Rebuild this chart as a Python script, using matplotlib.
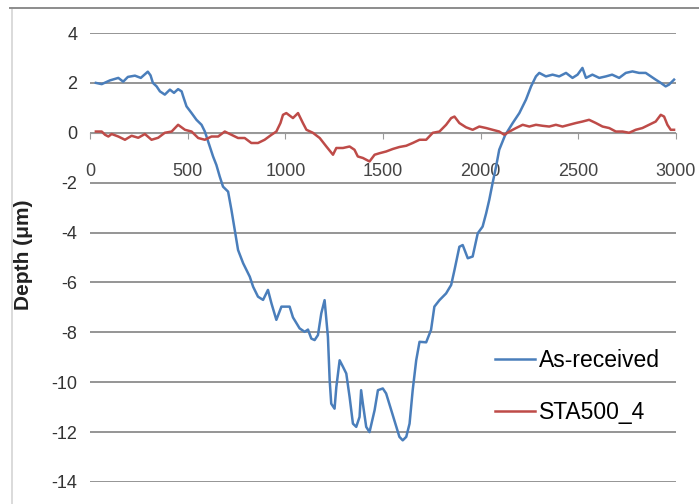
import matplotlib
matplotlib.use("Agg")
import matplotlib.pyplot as plt
from matplotlib.lines import Line2D

plt.rcParams["font.family"] = ["Liberation Sans", "DejaVu Sans"]
plt.rcParams["axes.unicode_minus"] = False

# Surface profiles: position (um) vs depth (um)
as_received_x = [30, 60, 102, 145, 170, 194, 230, 260, 296, 310, 322, 341, 358, 383,
                 409, 430, 451, 469, 477, 494, 520, 545, 571, 588, 605, 630, 647, 664,
                 681, 707, 724, 741, 758, 784, 818, 835, 860, 886, 911, 929, 954, 980,
                 1022, 1039, 1073, 1099, 1116, 1133, 1150, 1167, 1184, 1201, 1218, 1227,
                 1235, 1252, 1261, 1278, 1295, 1312, 1329, 1346, 1363, 1380, 1388, 1397,
                 1414, 1431, 1457, 1474, 1499, 1516, 1542, 1568, 1584, 1601, 1619, 1636,
                 1652, 1670, 1687, 1721, 1746, 1763, 1789, 1823, 1849, 1866, 1891, 1908,
                 1934, 1959, 1985, 2010, 2028, 2044, 2061, 2079, 2095, 2125, 2164, 2198,
                 2232, 2258, 2283, 2300, 2334, 2368, 2402, 2437, 2470, 2496, 2521, 2539,
                 2572, 2607, 2641, 2673, 2709, 2743, 2777, 2811, 2845, 2871, 2896, 2922,
                 2947, 2964, 2990]
as_received_y = [2.0, 1.95, 2.1, 2.2, 2.05, 2.24, 2.29, 2.2, 2.45, 2.3, 2.0, 1.86, 1.66, 1.53,
                 1.73, 1.6, 1.75, 1.66, 1.46, 1.06, 0.79, 0.52, 0.32, 0.05, -0.35, -0.95, -1.29, -1.75,
                 -2.16, -2.36, -3.09, -3.9, -4.7, -5.23, -5.77, -6.17, -6.57, -6.7, -6.3, -6.84, -7.5, -6.97,
                 -6.97, -7.4, -7.84, -7.98, -7.89, -8.25, -8.31, -8.11, -7.24, -6.71, -8.18, -9.92,
                 -10.86, -11.06, -10.2, -9.12, -9.38, -9.65, -10.59, -11.66, -11.79, -11.39, -10.32, -10.86,
                 -11.79, -12.0, -11.12, -10.32, -10.25, -10.45, -11.12, -11.79, -12.19, -12.33, -12.19, -11.66,
                 -10.32, -9.12, -8.38, -8.4, -7.9, -6.97, -6.71, -6.44, -6.1, -5.5, -4.57, -4.5,
                 -5.03, -4.96, -4.03, -3.76, -3.23, -2.69, -2.02, -1.35, -0.68, -0.1, 0.39, 0.79,
                 1.33, 1.86, 2.26, 2.4, 2.26, 2.33, 2.26, 2.4, 2.2, 2.33, 2.6, 2.2,
                 2.33, 2.2, 2.26, 2.33, 2.2, 2.4, 2.46, 2.4, 2.4, 2.26, 2.13, 2.0,
                 1.86, 1.93, 2.13]

sta500_x = [30, 60, 77, 94, 111, 145, 179, 213, 247, 281, 315, 349, 383, 418, 451, 486,
            520, 554, 588, 622, 656, 690, 724, 758, 792, 826, 860, 894, 929, 954, 975,
            988, 1005, 1039, 1065, 1090, 1108, 1141, 1176, 1210, 1244, 1261, 1295, 1329,
            1354, 1371, 1397, 1431, 1457, 1482, 1516, 1550, 1584, 1619, 1652, 1687, 1721,
            1755, 1789, 1823, 1849, 1866, 1891, 1925, 1959, 1993, 2028, 2061, 2095, 2121,
            2147, 2181, 2215, 2249, 2283, 2317, 2351, 2385, 2419, 2453, 2487, 2521, 2555,
            2590, 2624, 2658, 2692, 2726, 2760, 2794, 2828, 2862, 2896, 2922, 2939, 2956,
            2973, 2990]
sta500_y = [0.05, 0.05, -0.08, -0.15, -0.05, -0.15, -0.28, -0.12, -0.2, -0.05, -0.28, -0.2, 0.0, 0.05, 0.32, 0.12,
            0.05, -0.21, -0.28, -0.15, -0.15, 0.05, -0.08, -0.21, -0.21, -0.41, -0.41, -0.28, -0.08, 0.05, 0.39,
            0.72, 0.79, 0.59, 0.79, 0.39, 0.12, 0.0, -0.21, -0.55, -0.88, -0.61, -0.61, -0.55,
            -0.68, -0.95, -1.01, -1.15, -0.88, -0.82, -0.75, -0.65, -0.57, -0.52, -0.41, -0.28, -0.28,
            0.0, 0.05, 0.32, 0.59, 0.65, 0.39, 0.22, 0.12, 0.25, 0.19, 0.12, 0.05, -0.08,
            0.05, 0.19, 0.32, 0.25, 0.32, 0.28, 0.25, 0.32, 0.25, 0.32, 0.39, 0.45, 0.52,
            0.39, 0.25, 0.19, 0.05, 0.05, 0.0, 0.12, 0.19, 0.32, 0.45, 0.72, 0.65, 0.32,
            0.12, 0.12]

x_ticks = [0, 500, 1000, 1500, 2000, 2500, 3000]
y_ticks = [4, 2, 0, -2, -4, -6, -8, -10, -12, -14]

W, H = 699, 504
fig = plt.figure(figsize=(W / 100, H / 100), dpi=100)
ax = fig.add_axes([90 / W, 1 - 482 / H, 586 / W, 449 / H])

# chart-area frame
fig.add_artist(Line2D([12 / W, 12 / W], [0, 1 - 8 / H], color="#d4d4d4", lw=1.2))
fig.add_artist(Line2D([10 / W, 1], [1 - 8 / H, 1 - 8 / H], color="#8c8c8c", lw=1.4))

ax.plot(as_received_x, as_received_y, color="#4a7ebb", lw=1.8, label="As-received", zorder=3)
ax.plot(sta500_x, sta500_y, color="#be4b48", lw=1.8, label="STA500_4", zorder=4)

ax.set_xlim(0, 3000)
ax.set_ylim(-14, 4)
ax.set_xticks(x_ticks)
ax.set_yticks(y_ticks)
ax.grid(axis="y", color="#8c8c8c", lw=1.3)
ax.set_axisbelow(True)

for side in ("top", "right", "left"):
    ax.spines[side].set_visible(False)
ax.spines["bottom"].set_position(("data", 0))
ax.spines["bottom"].set_color("#9a9a9a")
ax.spines["bottom"].set_zorder(2)

ax.tick_params(axis="x", direction="out", length=4, color="#9a9a9a", pad=18,
               labelsize=13, labelcolor="#444444")
ax.tick_params(axis="y", length=0, pad=9, labelsize=13, labelcolor="#333333")

ax.set_ylabel("Depth (\u03bcm)", fontsize=15, fontweight="bold", color="#222222")
ax.yaxis.set_label_coords(-0.097, 0.506)

fig.legend(loc="upper left", bbox_to_anchor=(495 / W, 1 - 349 / H), frameon=False,
           fontsize=16.5, handlelength=1.75, handletextpad=0.15, labelspacing=1.25,
           borderpad=0, borderaxespad=0)

fig.savefig("out.png", dpi=100, facecolor="white")
